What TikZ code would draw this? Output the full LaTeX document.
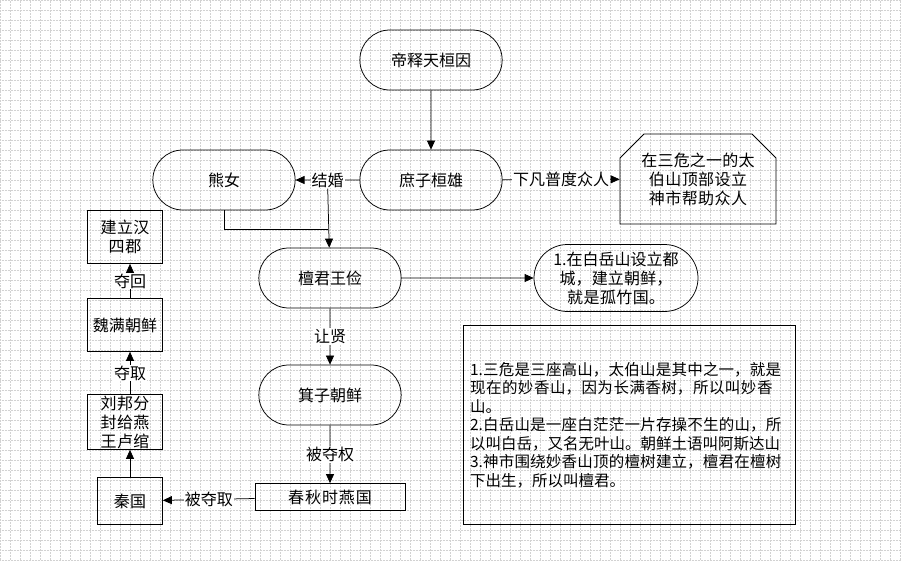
\documentclass[tikz,border=0pt]{standalone}
\usepackage{fontspec}
\setmainfont{Noto Sans CJK SC}
\XeTeXlinebreaklocale "zh"
\XeTeXlinebreakskip=0pt plus 1pt
\usetikzlibrary{shapes.misc,arrows.meta,positioning}
\tikzset{every picture/.style={line width=0.75pt},
  stad/.style={rounded rectangle,draw,minimum width=149pt,minimum height=60pt,font=\fontsize{16}{19}\selectfont,align=center},
  box/.style={rectangle,draw,minimum width=75pt,minimum height=53pt,text width=66pt,align=center,inner sep=1pt,font=\fontsize{16}{19}\selectfont},
  lbl/.style={fill=white,inner sep=1pt,font=\fontsize{16}{19}\selectfont},
  arr/.style={-{Triangle[length=9pt,width=8pt]}}}
\begin{document}
\begin{tikzpicture}[x=1pt,y=-1pt]
\useasboundingbox (0,0) rectangle (901,561);
%grid
\draw[gray!35,densely dotted,line width=0.5pt] (0,0) grid[step=10pt] (901,561);

%main column
\node[stad] (dishi) at (431,60) {帝释天桓因};
\node[stad] (huanxiong) at (431,180) {庶子桓雄};
\node[stad] (xiongnv) at (224,180) {熊女};
\node[stad] (tanjun) at (330,278) {檀君王俭};
\node[stad] (jizi) at (330,395) {箕子朝鲜};
\node[box,minimum width=150pt,text width=140pt,minimum height=27pt] (yan) at (330,497) {春秋时燕国};
\node[box,minimum width=65pt,text width=60pt,minimum height=47pt] (qin) at (130,501) {秦国};
\node[box,minimum height=55pt] (liubang) at (125,422) {刘邦分封给燕王卢绾};
\node[box] (weiman) at (125,325) {魏满朝鲜};
\node[box] (hansi) at (125,237) {建立汉四郡};

%right side
\node[draw,chamfered rectangle,chamfered rectangle corners={north west,north east},chamfered rectangle xsep=12pt,chamfered rectangle ysep=12pt,
  minimum width=150pt,minimum height=90pt,text width=128pt,align=center,inner sep=2pt,font=\fontsize{16}{19}\selectfont] (taibo) at (698,179) {在三危之一的太伯山顶部设立神市帮助众人};
\node[stad,minimum width=166pt,minimum height=67pt,text width=126pt,inner sep=1pt] (baiyue) at (616,278) {1.在白岳山设立都城，建立朝鲜，就是孤竹国。};
\node[draw,minimum width=332pt,minimum height=199pt,text width=318pt,align=left,font=\fontsize{15.5}{18.5}\selectfont] (notes) at (629,425)
  {1.三危是三座高山，太伯山是其中之一，就是现在的妙香山，因为长满香树，所以叫妙香山。\\
   2.白岳山是一座白茫茫一片存操不生的山，所以叫白岳，又名无叶山。朝鲜土语叫阿斯达山\\
   3.神市围绕妙香山顶的檀树建立，檀君在檀树下出生，所以叫檀君。};

%connectors
\draw[arr] (dishi) -- (huanxiong);
\draw[arr] (huanxiong) -- node[lbl] (jiehun) {结婚} (xiongnv);
\draw[arr] (jiehun) -- (tanjun);
\coordinate (turn) at (xiongnv.south |- 0,229);
\draw (xiongnv.south) -- (turn) -- (turn -| jiehun);
\draw[arr] (huanxiong) -- node[lbl] {下凡普度众人} (taibo);
\draw[arr] (tanjun) -- (baiyue);
\draw[arr] (tanjun) -- node[lbl] {让贤} (jizi);
\draw[arr] (jizi) -- node[lbl] {被夺权} (yan);
\draw[arr] (yan) -- node[lbl] {被夺取} (qin);
\draw[arr] (qin) -- (qin |- liubang.south);
\draw[arr] (liubang.north -| qin) -- node[lbl] {夺取} (weiman.south -| qin);
\draw[arr] (weiman.north -| qin) -- node[lbl] {夺回} (hansi.south -| qin);
\end{tikzpicture}
\end{document}
